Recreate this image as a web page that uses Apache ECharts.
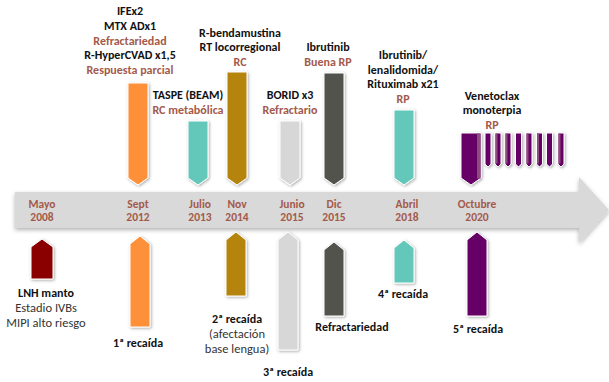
<!DOCTYPE html>
<html><head><meta charset="utf-8">
<script src="https://cdn.jsdelivr.net/npm/echarts@6/dist/echarts.min.js"></script>
<style>html,body{margin:0;padding:0;background:#fff}#c{width:609px;height:382px}</style>
</head><body><div id="c"></div>
<script>
// ---- DATA ----
// Timeline dates (shown on the arrow band) and their position along the timeline axis
const dateLabels = ['Mayo\n2008','Sept\n2012','Julio\n2013','Nov\n2014','Junio\n2015','Dic\n2015','Abril\n2018','Octubre\n2020'];
const datePos = [42,138,200,237,292,334,407,477];

// Treatments (bars above the band): position on timeline and bar length above band centre
const treatPos = [138,198,237,290,334,404,471];
const treatTop = [127,89,138,89,137,100,77];
const treatTip = [25,25,25,25,25,25,25];
const treatText = [
  [['IFEx2','k'],['MTX ADx1','k'],['Refractariedad','r'],['R-HyperCVAD x1,5','k'],['Respuesta parcial','r']],
  [['TASPE (BEAM)','k'],['RC metabólica','r']],
  [['R-bendamustina','k'],['RT locorregional','k'],['RC','r']],
  [['BORID x3','k'],['Refractario','r']],
  [['Ibrutinib','k'],['Buena RP','r']],
  [['Ibrutinib/','k'],['lenalidomida/','k'],['Rituximab x21','k'],['RP','r']],
  [['Venetoclax','k'],['monoterpia','k'],['RP','r']]
];

// Venetoclax continuing cycles (small bars)
const cyclePos = [488,498,508,518.5,529,539.5,549.5,561];
const cycleTop = [77,77,77,77,77,77,77,77];
const cycleTip = [43,43,43,43,43,43,43,43];

// Events (bars below the band): position, tip value and end value (negative = below band)
const eventPos = [42,140,236,288,334,404,477];
const eventTip = [-29,-26,-22,-22,-32,-30,-22];
const eventEnd = [-69,-117,-86,-140,-106,-73,-106];
const eventText = [
  [['LNH manto','k'],['Estadio IVBs','n'],['MIPI alto riesgo','n']],
  [['1ª recaída','k']],
  [['2ª recaída','k'],['(afectación','n'],['base lengua)','n']],
  [['3ª recaída','k']],
  [['Refractariedad','k']],
  [['4ª recaída','k']],
  [['5ª recaída','k']]
];

// Timeline band extent: [start, head start, tip]
const bandExtent = [15, 579, 609];

// ---- STYLE / LAYOUT ----
const treatColors = ['#fd9038','#63c8b9','#b5840a','#d7d7d7','#53524e','#63c8b9','#660066'];
const eventColors = ['#8a0000','#fd9038','#b5840a','#d7d7d7','#53524e','#63c8b9','#660066'];
const treatLabelAt = [[130,140],[188,100],[240,148],[290,100],[328,148],[403,111],[492,85]];
const eventLabelAt = [[46,-83],[138,-133],[237,-109],[288,-162],[352,-117],[403,-84],[478,-119]];
const BROWN = '#a35a4b';
const FONT = 'Carlito, Calibri, Lato, "Open Sans", sans-serif';
const FS = 12, LH = 14.7;
const rich = {
  k:{fontFamily:FONT,fontSize:FS,fontWeight:'bold',fill:'#111',color:'#111',lineHeight:LH},
  r:{fontFamily:FONT,fontSize:FS,fontWeight:'bold',fill:BROWN,color:BROWN,lineHeight:LH},
  n:{fontFamily:FONT,fontSize:12.5,fontWeight:'normal',fill:'#333',color:'#333',lineHeight:LH}
};
function richStr(lines){return lines.map(l=>'{'+l[1]+'|'+l[0]+'}').join('\n');}
const barShadow = {shadowBlur:3,shadowColor:'rgba(0,0,0,0.35)',shadowOffsetX:1,shadowOffsetY:1};

function downBar(api, x, top, tip, w, tipH, color){
  const pTop = api.coord([x, top]);
  const pTip = api.coord([x, tip]);
  const hw = api.size([w,0])[0]/2;
  const c = pTop[0];
  return {type:'polygon', shape:{points:[[c-hw,pTop[1]],[c+hw,pTop[1]],[c+hw,pTip[1]-tipH],[c,pTip[1]],[c-hw,pTip[1]-tipH]]},
    style:Object.assign({fill:color,stroke:'#fff',lineWidth:1},barShadow)};
}
function upBar(api, x, tip, end, w, tipH, color){
  const pTip = api.coord([x, tip]);
  const pEnd = api.coord([x, end]);
  const hw = api.size([w,0])[0]/2;
  const c = pTip[0];
  return {type:'polygon', shape:{points:[[c,pTip[1]],[c+hw,pTip[1]+tipH],[c+hw,pEnd[1]],[c-hw,pEnd[1]],[c-hw,pTip[1]+tipH]]},
    style:Object.assign({fill:color,stroke:'#fff',lineWidth:1},barShadow)};
}

const chart = echarts.init(document.getElementById('c'), null, {renderer:'svg'});
chart.setOption({
  animation:false,
  grid:{left:0,right:0,top:0,bottom:0},
  xAxis:{type:'value',min:0,max:609,show:false},
  yAxis:{type:'value',min:-172,max:210,show:false},
  series:[
    { // arrow band
      type:'custom', data:[bandExtent], z:1,
      renderItem:(p,api)=>{
        const s=api.value(0), h=api.value(1), t=api.value(2);
        const pts=[[s,18],[h,18],[h,33],[t,0],[h,-33],[h,-18],[s,-18]].map(v=>api.coord(v));
        return {type:'polygon',shape:{points:pts},style:{fill:'#d9d9d9',shadowBlur:4,shadowColor:'rgba(0,0,0,0.3)',shadowOffsetY:2}};
      }
    },
    { // date labels on band
      type:'custom', z:3, data:datePos.map((x,i)=>[x,0,i]),
      renderItem:(p,api)=>{
        const pt=api.coord([api.value(0),api.value(1)]);
        return {type:'text',x:pt[0],y:pt[1],style:{text:dateLabels[api.value(2)],fill:BROWN,font:'bold 11.5px '+FONT,align:'center',verticalAlign:'middle',lineHeight:13}};
      }
    },
    { // treatments (above)
      type:'custom', z:4, data:treatPos.map((x,i)=>[x,treatTop[i],treatTip[i],i]),
      renderItem:(p,api)=>{
        const i=api.value(3);
        const ch=[downBar(api,api.value(0),api.value(1),api.value(2),20,7,treatColors[i])];
        if(i===6){
          const a=api.coord([api.value(0)+6,api.value(1)]), b=api.coord([api.value(0)+10,api.value(2)]);
          ch.push({type:'rect',shape:{x:a[0],y:a[1]+0.5,width:b[0]-a[0]-0.5,height:b[1]-a[1]-7},style:{fill:'#8c4f7d'}});
        }
        const lp=api.coord(treatLabelAt[i]);
        ch.push({type:'text',x:lp[0],y:lp[1]+LH/2,style:{text:richStr(treatText[i]),rich:rich,align:'center',verticalAlign:'bottom',font:'bold 12px '+FONT}});
        return {type:'group',children:ch};
      }
    },
    { // continuing cycles
      type:'custom', z:4, data:cyclePos.map((x,i)=>[x,cycleTop[i],cycleTip[i],i]),
      renderItem:(p,api)=>{
        const i=api.value(3);
        const bar=downBar(api,api.value(0),api.value(1),api.value(2),6,3,'#660066');
        const a=api.coord([api.value(0)-3,api.value(1)]), b=api.coord([api.value(0)-1,api.value(2)]);
        const ch=[bar];
        if(i%3!==0) ch.push({type:'rect',shape:{x:a[0]+0.5,y:a[1]+0.5,width:b[0]-a[0],height:b[1]-a[1]-4},style:{fill:'#8c4f7d'}});
        return {type:'group',children:ch};
      }
    },
    { // events (below)
      type:'custom', z:4, data:eventPos.map((x,i)=>[x,eventTip[i],eventEnd[i],i]),
      renderItem:(p,api)=>{
        const i=api.value(3);
        const ch=[upBar(api,api.value(0),api.value(1),api.value(2),i===0?22:20,8,eventColors[i])];
        const lp=api.coord(eventLabelAt[i]);
        ch.push({type:'text',x:lp[0],y:lp[1]-LH/2,style:{text:richStr(eventText[i]),rich:rich,align:'center',verticalAlign:'top',font:'bold 12px '+FONT}});
        return {type:'group',children:ch};
      }
    }
  ]
});
</script></body></html>
